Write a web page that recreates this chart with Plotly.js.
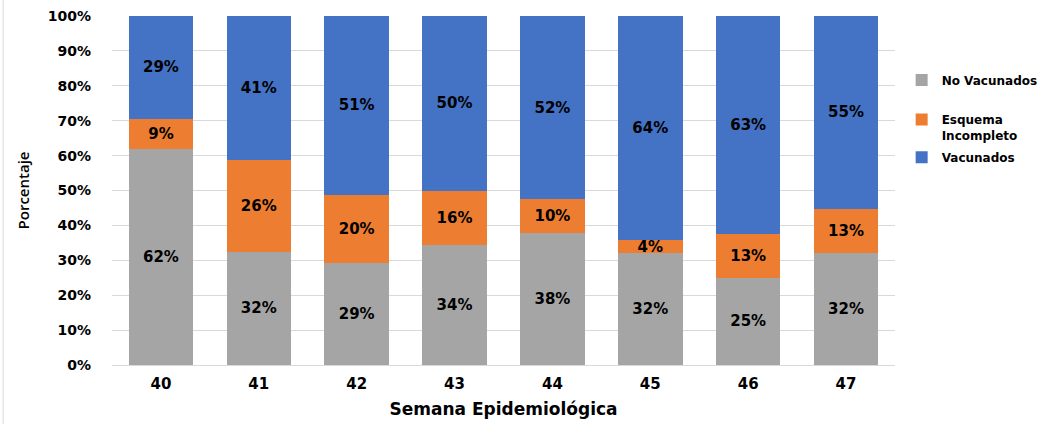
<!DOCTYPE html>
<html>
<head>
<meta charset="utf-8">
<script src="https://cdn.plot.ly/plotly-3.0.1.min.js"></script>
<style>
html,body{margin:0;padding:0;background:#fff;}
#chart{width:1046px;height:424px;}
</style>
</head>
<body>
<div id="chart"></div>
<script>
const semanas = ['40','41','42','43','44','45','46','47'];
const noVacunados = [61.8, 32.4, 29.3, 34.3, 37.7, 32.1, 25.0, 32.1];
const esquemaIncompleto = [8.8, 26.4, 19.5, 15.6, 9.8, 3.7, 12.5, 12.7];
const vacunados = [29.4, 41.2, 51.2, 50.1, 52.4, 64.2, 62.5, 55.2];
const seriesNames = ['No Vacunados', 'Esquema<br>Incompleto', 'Vacunados'];
const seriesColors = ['#A5A5A5', '#ED7D31', '#4472C4'];
const seriesValues = [noVacunados, esquemaIncompleto, vacunados];
const legendIds = ['legend', 'legend2', 'legend3'];

const labelFont = {family: 'DejaVu Sans', size: 15, color: '#000'};

const traces = seriesValues.map((vals, i) => ({
  type: 'bar',
  name: seriesNames[i],
  legend: legendIds[i],
  x: semanas,
  y: vals,
  marker: {color: seriesColors[i]},
  text: vals.map(v => Math.round(v) + '%'),
  textposition: 'inside',
  insidetextanchor: 'middle',
  textangle: 0,
  texttemplate: '<b>%{text}</b>',
  textfont: labelFont,
  hoverinfo: 'none'
}));

function legendAt(yTop) {
  return {
    xref: 'container',
    yref: 'container',
    x: 0.862,
    y: yTop,
    xanchor: 'left',
    yanchor: 'top',
    valign: 'top',
    bgcolor: 'rgba(0,0,0,0)',
    font: {family: 'DejaVu Sans', size: 12, color: '#000', weight: 'bold'},
    itemwidth: 30
  };
}

const layout = {
  width: 1046,
  height: 424,
  barmode: 'stack',
  bargap: 0.34,
  margin: {l: 112, r: 151, t: 16, b: 59, autoexpand: false},
  paper_bgcolor: '#fff',
  plot_bgcolor: '#fff',
  uniformtext: {minsize: 15, mode: 'show'},
  font: {family: 'DejaVu Sans', color: '#000'},
  xaxis: {
    type: 'category',
    tickfont: {family: 'DejaVu Sans', size: 15, color: '#000', weight: 'bold'},
    ticks: '',
    ticklabelstandoff: 5,
    showline: true,
    linecolor: '#D9D9D9',
    linewidth: 1,
    title: {text: '<b>Semana Epidemiológica</b>', font: {family: 'DejaVu Sans', size: 17, color: '#000'}, standoff: 11}
  },
  yaxis: {
    range: [0, 100],
    dtick: 10,
    ticksuffix: '%',
    tickfont: {family: 'DejaVu Sans', size: 14, color: '#000', weight: 'bold'},
    showgrid: true,
    gridcolor: '#D9D9D9',
    gridwidth: 1,
    zeroline: false,
    ticklabelstandoff: 20,
    title: {text: 'Porcentaje', font: {family: 'Open Sans', size: 15, color: '#000', weight: 600}, standoff: 14}
  },
  legend: legendAt(0.845),
  legend2: legendAt(0.752),
  legend3: legendAt(0.663),
  shapes: [{
    type: 'line', xref: 'paper', yref: 'paper',
    x0: -0.139, x1: -0.139, y0: -0.17, y1: 1.05,
    line: {color: '#D9D9D9', width: 1}
  }],
  showlegend: true
};

Plotly.newPlot('chart', traces, layout, {displayModeBar: false, staticPlot: true});
</script>
</body>
</html>
